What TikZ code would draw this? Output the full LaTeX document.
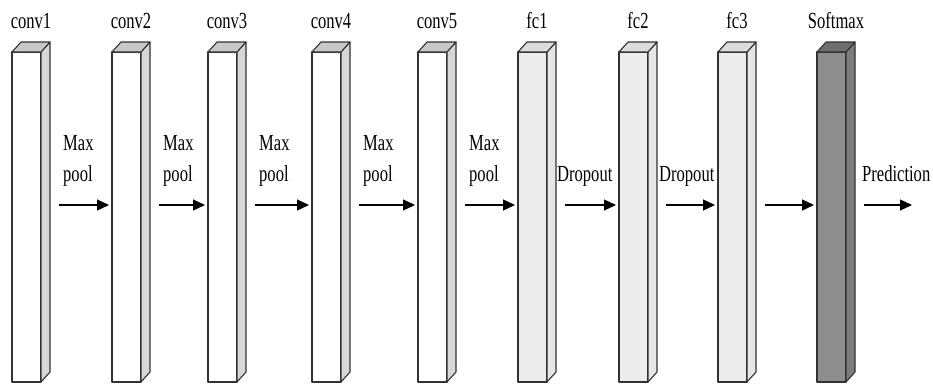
\documentclass[tikz,border=0pt]{standalone}
\usepackage{fontspec}
\setmainfont[FakeStretch=0.72]{Liberation Serif}
\usetikzlibrary{arrows.meta,positioning,calc}
\definecolor{edgegray}{RGB}{50,50,50}
\definecolor{convside}{RGB}{215,215,215}
\definecolor{convtop}{RGB}{200,200,200}
\definecolor{fcfront}{RGB}{236,236,236}
\definecolor{fcside}{RGB}{230,230,230}
\definecolor{fctop}{RGB}{220,220,220}
\definecolor{smfront}{RGB}{142,142,142}
\definecolor{smside}{RGB}{125,125,125}
\definecolor{smtop}{RGB}{110,110,110}

\begin{document}
\begin{tikzpicture}[x=1pt,y=-1pt,
  layer/.style={draw=edgegray,line width=1.1pt,line join=round,minimum width=29pt,minimum height=330pt,inner sep=0pt,outer sep=0pt,anchor=north west},
  face/.style={draw=edgegray,line width=1.1pt,line join=round},
  txt/.style={font=\fontsize{23}{27}\selectfont,inner sep=0pt},
  flow/.style={line width=1.2pt,-{Triangle[length=12pt,width=11pt]}},
]
  \useasboundingbox (0,0) rectangle (933,383);

  % layers: name / left edge / caption / front / side / top
  \foreach \n/\x/\cap/\cf/\cs/\ct in {conv1/12/conv1/white/convside/convtop,
      conv2/112/conv2/white/convside/convtop,
      conv3/208/conv3/white/convside/convtop,
      conv4/312/conv4/white/convside/convtop,
      conv5/418/conv5/white/convside/convtop,
      fc1/518/fc1/fcfront/fcside/fctop,
      fc2/619/fc2/fcfront/fcside/fctop,
      fc3/718/fc3/fcfront/fcside/fctop,
      soft/817/Softmax/smfront/smside/smtop} {
    \node[layer,fill=\cf] (\n) at (\x,52) {};
    \draw[face,fill=\cs] (\n.north east) -- ++(9,-10) -- ++(0,330) -- (\n.south east) -- cycle;
    \draw[face,fill=\ct] (\n.north west) -- ++(9,-10) -- ++(29,0) -- (\n.north east) -- cycle;
    \node[txt,anchor=base] at ($(\n.north)+(4.5,-24)$) {\cap};
  }

  % arrows between layers
  \foreach \a/\b/\up/\lo/\dx in {conv1/conv2/Max/pool/4,
      conv2/conv3/Max/pool/4,
      conv3/conv4/Max/pool/4,
      conv4/conv5/Max/pool/4,
      conv5/fc1/Max/pool/4,
      fc1/fc2//Dropout/-8,
      fc2/fc3//Dropout/-7,
      fc3/soft///0} {
    \draw[flow] ([xshift=18pt,yshift=12pt]\a.east) -- ([xshift=-3pt,yshift=12pt]\b.west);
    \node[txt,anchor=base west] at ($([xshift=18pt,yshift=12pt]\a.east)+(\dx,-55)$) {\up};
    \node[txt,anchor=base west] at ($([xshift=18pt,yshift=12pt]\a.east)+(\dx,-24)$) {\lo};
  }

  \coordinate (pred) at ([xshift=66pt,yshift=12pt]soft.east);
  \draw[flow] ([xshift=18pt,yshift=12pt]soft.east) -- (pred);
  \node[txt,anchor=base west] at ($([xshift=18pt,yshift=12pt]soft.east)+(-2,-24)$) {Prediction};
\end{tikzpicture}
\end{document}
